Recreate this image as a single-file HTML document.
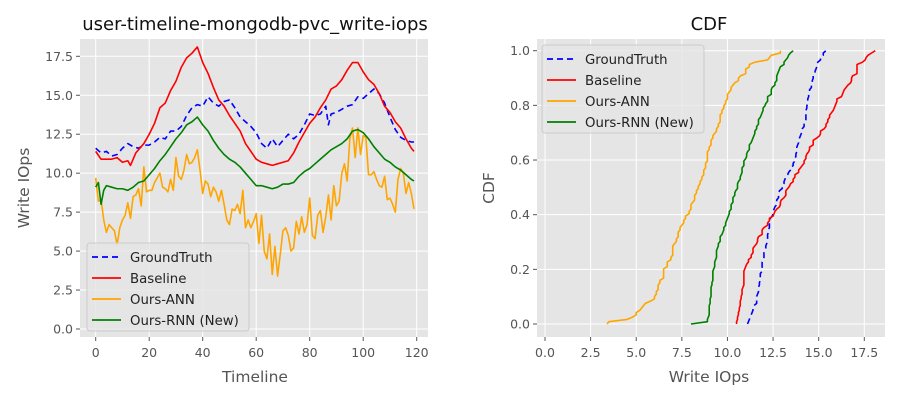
<!DOCTYPE html>
<html><head><meta charset="utf-8"><style>
body{margin:0;background:#fff;font-family:"DejaVu Sans","Liberation Sans",sans-serif;}
svg{display:block}
</style></head><body>
<svg id="c" width="900" height="400" xmlns="http://www.w3.org/2000/svg" font-family="DejaVu Sans, Liberation Sans, sans-serif"></svg>
<script>
const gtX=[0,2,4,6,8,10,12,14,16,18,20,22,24,26,28,30,32,34,36,38,40,42,44,46,48,50,52,54,56,58,60,62,64,66,68,70,72,74,76,78,80,82,84,86,87,88,90,92,94,96,98,100,102,104,106,108,110,112,114,116,118,119];
const gtY=[11.6,11.3,11.4,11.1,11.2,11.6,11.9,11.7,11.6,11.8,11.8,12.0,12.3,12.2,12.7,12.7,13.0,13.7,14.2,14.4,14.3,14.9,14.5,14.3,14.6,14.7,14.2,13.6,13.3,13.0,12.6,11.9,11.6,12.2,11.7,12.1,12.5,12.2,12.5,13.1,13.8,13.7,13.8,14.3,13.1,13.8,13.9,14.1,14.3,14.4,14.9,14.8,15.1,15.4,15.1,14.5,13.6,12.8,12.3,12.1,12.0,12.0];
const blX=[0,2,4,6,8,10,12,13,15,18,20,22,24,26,28,30,32,34,36,38,40,42,44,46,48,50,52,54,56,58,60,62,64,66,68,70,72,74,76,78,80,82,84,86,88,90,92,94,96,98,100,102,104,106,108,110,112,114,116,118,119];
const blY=[11.4,10.9,10.9,10.9,11.0,10.7,10.8,10.5,11.3,11.9,12.5,13.2,14.2,14.5,15.3,15.9,16.8,17.4,17.7,18.1,17.1,16.4,15.5,14.7,14.3,13.7,13.2,12.7,11.9,11.4,10.9,10.7,10.6,10.5,10.6,10.7,10.8,11.3,12.0,12.6,13.2,13.6,14.2,14.7,15.4,15.6,16.0,16.6,17.1,17.1,16.5,16.0,15.7,15.1,14.3,13.9,13.3,12.9,12.2,11.6,11.4];
const rnX=[0,1,2,3,4,6,8,10,12,14,16,18,20,22,24,26,28,30,32,34,36,38,40,42,44,46,48,50,52,54,56,58,60,62,64,66,68,70,72,74,76,78,80,82,84,86,88,90,92,94,96,98,100,102,104,106,108,110,112,114,116,118,119];
const rnY=[9.1,9.4,8.0,8.9,9.2,9.1,9.0,9.0,8.9,9.1,9.4,9.5,9.9,10.3,10.8,11.2,11.7,12.2,12.6,13.1,13.3,13.6,13.1,12.7,12.1,11.6,11.2,10.9,10.7,10.4,10.0,9.6,9.2,9.2,9.1,9.0,9.1,9.3,9.3,9.4,9.8,10.1,10.3,10.6,10.9,11.2,11.5,11.7,11.9,12.2,12.7,12.8,12.6,12.2,11.7,11.3,10.9,10.7,10.4,10.2,9.9,9.6,9.5];
const annY=[9.7,8.2,8.3,7.0,6.2,6.7,6.5,6.3,5.4,6.5,7.0,7.3,8.1,7.1,8.5,8.6,9.0,7.9,10.4,8.8,8.9,8.9,9.4,9.7,10.0,9.1,9.0,8.8,9.6,8.9,11.0,9.8,9.6,10.2,11.2,10.6,10.7,11.0,11.5,10.2,8.7,9.5,9.3,8.5,9.1,8.8,8.2,8.9,8.0,7.0,6.7,7.7,7.6,8.0,7.4,8.9,6.5,7.0,6.5,6.9,7.4,5.5,7.3,5.0,4.5,6.1,3.5,5.3,3.4,4.8,6.3,6.5,6.0,5.0,5.2,6.9,6.1,7.2,6.2,6.7,8.4,6.0,5.8,7.3,7.6,6.2,7.2,8.6,7.0,9.2,7.9,8.2,10.0,10.6,9.5,12.2,12.9,11.0,12.9,11.2,12.4,12.3,9.9,9.9,10.1,9.6,9.2,9.1,9.8,8.3,8.4,8.0,7.5,9.6,10.3,10.0,8.7,9.4,8.7,7.7];
const annX=annY.map((v,i)=>i);
const seriesNames=["GroundTruth","Baseline","Ours-ANN","Ours-RNN (New)"];
const xTicksL=[0,20,40,60,80,100,120];
const yTicksL=[0,2.5,5,7.5,10,12.5,15,17.5];
const xTicksR=[0,2.5,5,7.5,10,12.5,15,17.5];
const yTicksR=[0,0.2,0.4,0.6,0.8,1.0];

const NS="http://www.w3.org/2000/svg";
const svg=document.getElementById('c');
function mk(t,a,p){const e=document.createElementNS(NS,t);for(const k in a)e.setAttribute(k,a[k]);(p||svg).appendChild(e);return e;}
const cols=["#0000ff","#ff0000","#ffa500","#008000"];
const dash=["6,4","","",""];

const L={x0:80,x1:428,y0:39,y1:337};
const lx=v=>95.7+v*(416.7-95.7)/120;
const ly=v=>329-v*(329-56.3)/17.5;
const R={x0:537,x1:885,y0:39,y1:337};
const rx=v=>545+v*(864.3-545)/17.5;
const ry=v=>324-v*(324-50.7);

function axes(A,xt,yt,fx,fy,fmtx,fmty,name){
  const g=mk('g',{});
  
  
  mk('rect',{x:A.x0,y:A.y0,width:A.x1-A.x0,height:A.y1-A.y0,fill:'#e5e5e5'},g);
  xt.forEach(t=>{const x=fx(t);
    mk('line',{x1:x,x2:x,y1:A.y0,y2:A.y1,stroke:'#fff','stroke-width':1},g);
    mk('line',{x1:x,x2:x,y1:A.y1,y2:A.y1+4,stroke:'#555','stroke-width':1},g);
    const tx=mk('text',{x:x,y:A.y1+20,'text-anchor':'middle','font-size':12.5,fill:'#555'},g);tx.textContent=fmtx(t);
    
    });
  yt.forEach(t=>{const y=fy(t);
    mk('line',{x1:A.x0,x2:A.x1,y1:y,y2:y,stroke:'#fff','stroke-width':1},g);
    mk('line',{x1:A.x0-4,x2:A.x0,y1:y,y2:y,stroke:'#555','stroke-width':1},g);
    const tx=mk('text',{x:A.x0-7,y:y+4.5,'text-anchor':'end','font-size':12.5,fill:'#555'},g);tx.textContent=fmty(t);
    
    });
  return g;
}
axes(L,xTicksL,yTicksL,lx,ly,t=>String(t),t=>t.toFixed(1),'left');
axes(R,xTicksR,yTicksR,rx,ry,t=>t.toFixed(1),t=>t.toFixed(1),'right');

function poly(xs,ys,fx,fy,i,name){
  const pts=xs.map((x,k)=>fx(x).toFixed(2)+','+fy(ys[k]).toFixed(2)).join(' ');
  const p=mk('polyline',{points:pts,fill:'none',stroke:cols[i],'stroke-width':1.6,'stroke-linejoin':'round'});
  if(dash[i])p.setAttribute('stroke-dasharray',dash[i]);
  
  
}
const leftData=[[gtX,gtY],[blX,blY],[annX,annY],[rnX,rnY]];
[0,1,2,3].forEach(i=>poly(leftData[i][0],leftData[i][1],lx,ly,i,'line-'+seriesNames[i].toLowerCase().replace(/[^a-z]+/g,'-')));

function resample(xs,ys){const out=[];for(let t=0;t<=119;t++){let k=0;while(k<xs.length-2&&xs[k+1]<t)k++;const a=xs[k],b=xs[k+1];const f=b===a?0:Math.min(1,Math.max(0,(t-a)/(b-a)));out.push(ys[k]+(ys[k+1]-ys[k])*f);}return out;}
leftData.forEach((d,i)=>{
  const v=resample(d[0],d[1]).sort((a,b)=>a-b);
  const cy=v.map((_,k)=>k/(v.length-1));
  poly(v,cy,rx,ry,i,'cdf-'+seriesNames[i].toLowerCase().replace(/[^a-z]+/g,'-'));
});

function legend(x,y,name){
  const g=mk('g',{});
  
  
  mk('rect',{x:x,y:y,width:162,height:88,rx:3,fill:'#e5e5e5',stroke:'#cccccc','fill-opacity':0.8},g);
  seriesNames.forEach((n,i)=>{const yy=y+14+i*21;
    const l=mk('line',{x1:x+5,x2:x+34,y1:yy,y2:yy,stroke:cols[i],'stroke-width':1.8},g);
    if(dash[i])l.setAttribute('stroke-dasharray',dash[i]);
    const t=mk('text',{x:x+43,y:yy+5,'font-size':13.3,fill:'#222'},g);t.textContent=n;
    
    });
}
legend(87,243,'left-legend');
legend(542,45,'right-legend');

function txt(s,x,y,size,col,name,rot){const t=mk('text',{x:x,y:y,'text-anchor':'middle','font-size':size,fill:col});if(rot)t.setAttribute('transform','rotate(-90 '+x+' '+y+')');t.textContent=s;
  
  }
txt('user-timeline-mongodb-pvc_write-iops',255,30,18,'#111','left-title');
txt('CDF',709,30,18,'#111','right-title');
txt('Timeline',255,382,15.5,'#555','left-x-axis-title');
txt('Write IOps',709,382,15.5,'#555','right-x-axis-title');
txt('Write IOps',29,188,15.5,'#555','left-y-axis-title',true);
txt('CDF',494,188,15.5,'#555','right-y-axis-title',true);
</script>
</body></html>
